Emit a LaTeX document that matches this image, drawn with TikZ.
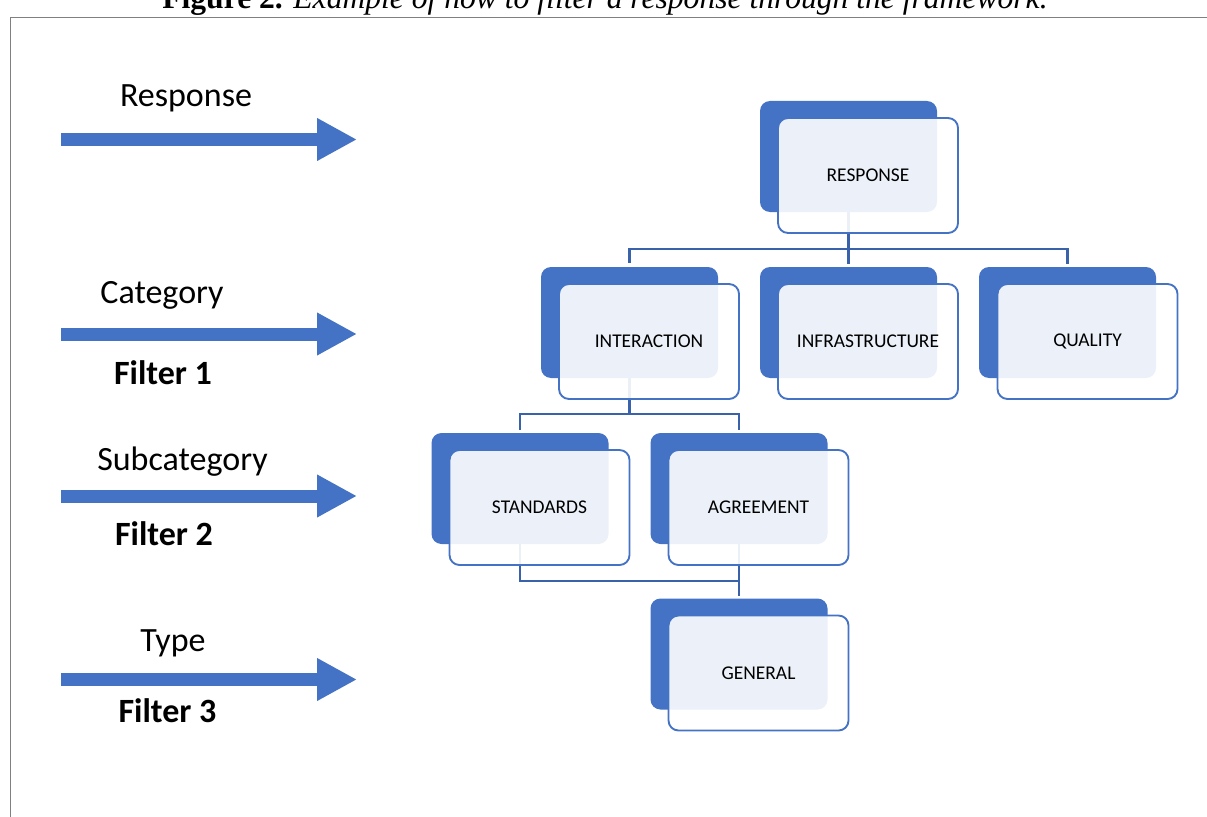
\documentclass[tikz,border=0pt]{standalone}
\usepackage{fontspec}
\setmainfont{Carlito}
\newfontfamily\titlefont{Liberation Serif}
\usepackage{tikz}
\usetikzlibrary{positioning,arrows.meta}
\definecolor{accent}{HTML}{4472C4}
\definecolor{linkblue}{HTML}{3A62AA}
\definecolor{framegray}{HTML}{808080}
\tikzset{
  groupback/.style={draw=none, fill=accent, rounded corners=7.5pt, minimum width=132.75pt, minimum height=83.25pt, inner sep=0pt},
  groupfront/.style={draw=accent, line width=1.4pt, fill=white, fill opacity=0.9, text opacity=1, rounded corners=7.5pt, minimum width=135pt, minimum height=86.25pt, inner sep=0pt, font=\fontsize{14.6}{16}\selectfont},
  link/.style={draw=linkblue, line width=1.6pt},
  filterarrow/.style={draw=accent, line width=9.75pt, -{Triangle[width=30pt, length=30pt]}},
  bigtag/.style={anchor=base, inner sep=0pt, font=\fontsize{25.5}{30}\selectfont},
  filtertag/.style={bigtag, font=\fontsize{25.5}{30}\selectfont\bfseries}
}
\begin{document}
\begin{tikzpicture}[x=0.75pt, y=-0.75pt]
  \useasboundingbox (0,0) rectangle (1207,817);

  % caption (cut off by the page)
  \node[anchor=base, inner sep=0pt, font=\titlefont\fontsize{23.7}{28}\selectfont] (caption) at (605,9) {\textbf{Figure 2.} \textit{Example of how to filter a response through the framework.}};
  \draw[framegray, line width=1.1pt] (10.5,817) -- (10.5,17.5) -- (1207,17.5);

  % left column
  \node[bigtag] (tagresp) at (186,107) {Response};
  \node[bigtag] (tagcat) at (162,303) {Category};
  \node[filtertag] (filt1) at (163,384) {Filter 1};
  \node[bigtag] (tagsub) at (182.5,470) {Subcategory};
  \node[filtertag] (filt2) at (164,545) {Filter 2};
  \node[bigtag] (tagtype) at (173,651.5) {Type};
  \node[filtertag] (filt3) at (167.5,722.5) {Filter 3};

  \draw[filterarrow] (61,139.5) -- (357,139.5);
  \draw[filterarrow] (61,334) -- (357,334);
  \draw[filterarrow] (61,496) -- (357,496);
  \draw[filterarrow] (61,679.5) -- (357,679.5);

  % back boxes
  \node[groupback] (respback) at (848.5,156.5) {};
  \node[groupback] (interback) at (629.5,322.5) {};
  \node[groupback] (infraback) at (848.5,322.5) {};
  \node[groupback] (qualback) at (1067.5,322.5) {};
  \node[groupback] (standback) at (520,488.5) {};
  \node[groupback] (agreeback) at (739,488.5) {};
  \node[groupback] (genback) at (739,654) {};

  % connectors
  \coordinate (bus1) at (848.5,249);
  \coordinate (bus2) at (629.5,414);
  \coordinate (bus3) at (739,581);
  \draw[link] (respback.south) -- (bus1);
  \draw[link, shorten <=3pt] (interback.north) |- (bus1) -| ([yshift=2pt]qualback.north);
  \draw[link, shorten >=2pt] (bus1) -- (infraback.north);
  \draw[link] (interback.south) -- (bus2);
  \draw[link, shorten <=2pt] (standback.north) |- (bus2) -| ([yshift=2pt]agreeback.north);
  \draw[link] (standback.south) |- (bus3);
  \draw[link, shorten >=2pt] (agreeback.south) -- (genback.north);

  % front boxes
  \node[groupfront] (respfront) at (868,175.5) {RESPONSE};
  \node[groupfront] (interfront) at (649,341.5) {INTERACTION};
  \node[groupfront] (infrafront) at (868,341.5) {INFRASTRUCTURE};
  \node[groupfront] (qualfront) at (1087.5,341.5) {QUALITY};
  \node[groupfront] (standfront) at (539.5,507.5) {STANDARDS};
  \node[groupfront] (agreefront) at (758.5,507.5) {AGREEMENT};
  \node[groupfront] (genfront) at (758.5,673) {GENERAL};
\end{tikzpicture}
\end{document}
